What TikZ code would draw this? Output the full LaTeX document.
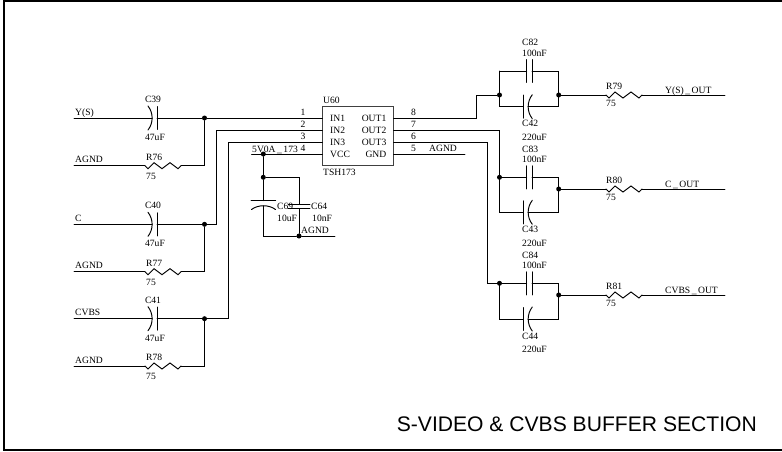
\documentclass[tikz,border=0pt]{standalone}
\usepackage{fontspec}
\setmainfont{Liberation Serif}
\newfontfamily\titlefont{Liberation Sans}
\newcommand\us{\kern1.5pt\_\kern1.5pt}
\tikzset{
	wire/.style={line width=0.95pt, line cap=round},
	lbl/.style={inner sep=0pt, anchor=base west, font=\fontsize{9.6}{10}\selectfont},
	lblr/.style={lbl, anchor=base east},
	ctr/.style={lbl, anchor=base},
	dot/.style={circle, fill=black, inner sep=0pt, minimum size=5pt},
	ic/.style={draw=black!75, line width=1pt, inner sep=0pt, minimum width=71.5pt, minimum height=59pt},
	% 36 wide, starts at the pic origin
	resistor/.pic={
		\draw[wire] (0,0) -- (3,3) -- (9,-3) -- (17,3) -- (25,-3) -- (33,3) -- (36,0);
		\coordinate (-in) at (0,0);
		\coordinate (-out) at (36,0);
	},
	% curved plate on the left, flat plate on the right
	capin/.pic={
		\draw[wire] (0,-12) .. controls (5.5,-5) and (5.5,5) .. (0,12);
		\draw[wire] (9,-11.5) -- (9,11.5);
		\coordinate (-in) at (4.2,0);
		\coordinate (-out) at (9,0);
	},
	% two flat plates
	capflat/.pic={
		\draw[wire] (0,-11.5) -- (0,11.5);
		\draw[wire] (5.3,-11.5) -- (5.3,11.5);
		\coordinate (-in) at (0,0);
		\coordinate (-out) at (5.3,0);
	},
	% flat plate on the left, curved plate on the right
	capout/.pic={
		\draw[wire] (0,-11.5) -- (0,11.5);
		\draw[wire] (9,-12) .. controls (3.5,-5) and (3.5,5) .. (9,12);
		\coordinate (-in) at (0,0);
		\coordinate (-out) at (4.8,0);
	}
}
\begin{document}
\begin{tikzpicture}[x=1pt, y=-1pt]
\useasboundingbox (0,0) rectangle (782,451);

% frame
\draw[line width=2.2pt] (782,0.6) -- (4.2,0.6) -- (4.2,449.6) -- (782,449.6);

% input side
\foreach \nm/\cp/\val/\rs/\ya/\yb/\lab in {a/C39/47uF/R76/118/165.7/Y(S), b/C40/47uF/R77/224.3/271.7/C, c/C41/47uF/R78/318.7/366/CVBS} {
	\coordinate (\nm in) at (74,\ya);
	\coordinate (\nm gnd) at (74,\yb);
	\node[dot] (\nm dot) at (204.5,\ya) {};
	\coordinate (\nm cor) at (204.5,\yb);
	\pic (\nm c) at (148,\ya) {capin};
	\pic (\nm r) at (145,\yb) {resistor};
	\draw[wire] (\nm in) -- (\nm c-in);
	\draw[wire] (\nm c-out) -- (\nm dot);
	\draw[wire] (\nm gnd) -- (\nm r-in);
	\draw[wire] (\nm r-out) -- (\nm cor) -- (\nm dot);
	\node[lbl] at (75,\ya-2.8) {\lab};
	\node[lbl] at (75,\yb-2.8) {AGND};
	\node[ctr] at (153,\ya-15.5) {\cp};
	\node[ctr] at (155,\ya+22.5) {\val};
	\node[lbl] at (146,\yb-5.2) {\rs};
	\node[lbl] at (146,\yb+13.5) {75};
}

% the buffer
\node[ic] (u60) at (358,136.2) {};
\node[lbl] at (323,103.5) {U60};
\node[lbl] at (323,175.5) {TSH173};

\foreach \i/\y/\nl/\nr/\ln/\rn in {1/118/8/1/IN1/OUT1, 2/130/7/2/IN2/OUT2, 3/142/6/3/IN3/OUT3, 4/154/5/4/VCC/GND} {
	\coordinate (pl\i) at (322.3,\y);
	\coordinate (pr\i) at (393.7,\y);
	\node[lbl] at (300.3,\y-2.5) {\nr};
	\node[lbl] at (411,\y-2.5) {\nl};
	\node[lbl] at (330,\y+3.5) {\ln};
	\node[lblr] at (386.5,\y+3.5) {\rn};
}

% inputs to the buffer
\draw[wire] (adot) -- (pl1);
\draw[wire] (bdot) -- (216.7,224.3) -- (216.7,130) -- (pl2);
\draw[wire] (cdot) -- (228.3,318.7) -- (228.3,142) -- (pl3);

% supply and decoupling
\coordinate (vcc) at (251.7,154);
\node[dot] (vccdot) at (263.3,154) {};
\node[dot] (dectop) at (263.3,177.3) {};
\node[dot] (decgnd) at (299,236) {};
\coordinate (gndend) at (335,236);
\draw[wire] (vcc) -- (pl4);
\draw[wire] (vccdot) -- (dectop);
\draw[wire] (dectop) -- (263.3,200.7);
\draw[wire] (251,200.7) -- (275.7,200.7);
\draw[wire] (251.5,209.5) .. controls (258,204.5) and (269,204.5) .. (275.5,209.5);
\draw[wire] (263.3,205.8) -- (263.3,236) -- (decgnd);
\draw[wire] (dectop) -- (299,177.3) -- (299,204.3);
\draw[wire] (288,204.3) -- (310,204.3);
\draw[wire] (288,208.8) -- (310,208.8);
\draw[wire] (299,208.8) -- (decgnd);
\draw[wire] (decgnd) -- (gndend);
\node[lbl] at (252,152.7) {5V0A\us 173};
\node[lbl] at (277,209) {C69};
\node[lbl] at (311,209) {C64};
\node[lbl] at (277,221.5) {10uF};
\node[lbl] at (312,221.5) {10nF};
\node[lbl] at (301,233.5) {AGND};

% right pin 5
\coordinate (gndr) at (465,154);
\draw[wire] (pr4) -- (gndr);
\node[lbl] at (429,151.5) {AGND};

% output side
\foreach \nm/\ym/\yt/\yb/\rs/\lab/\cpa/\cpb in {a/95/71/106.7/R79/Y(S)\us OUT/C82/C42, b/189/177.3/212.3/R80/C\us OUT/C83/C43, c/295/283.3/319/R81/CVBS\us OUT/C84/C44} {
	\coordinate (\nm tl) at (499.5,\yt);
	\coordinate (\nm tr) at (558.7,\yt);
	\coordinate (\nm bl) at (499.5,\yb);
	\coordinate (\nm br) at (558.7,\yb);
	\coordinate (\nm oend) at (725,\ym);
	\node[dot] (\nm odot) at (558.7,\ym) {};
	\pic (\nm cf) at (526.7,\yt) {capflat};
	\pic (\nm cc) at (523.3,\yb) {capout};
	\pic (\nm ro) at (606,\ym) {resistor};
	\draw[wire] (\nm tl) -- (\nm cf-in);
	\draw[wire] (\nm cf-out) -- (\nm tr) -- (\nm br) -- (\nm cc-out);
	\draw[wire] (\nm cc-in) -- (\nm bl) -- (\nm tl);
	\draw[wire] (\nm odot) -- (\nm ro-in);
	\draw[wire] (\nm ro-out) -- (\nm oend);
	\node[lbl] at (522,\yt-15) {100nF};
	\node[lbl] at (522,\yt-25.3) {\cpa};
	\node[lbl] at (522,\yb+20.2) {\cpb};
	\node[lbl] at (522,\yb+33.7) {220uF};
	\node[lbl] at (606,\ym-6) {\rs};
	\node[lbl] at (606,\ym+11.5) {75};
	\node[lbl] at (665,\ym-1.5) {\lab};
}

% outputs of the buffer
\node[dot] (jy) at (499.5,95) {};
\node[dot] (jc) at (499.5,177.3) {};
\node[dot] (jv) at (499.5,283.3) {};
\draw[wire] (pr1) -- (476,118) -- (476,95) -- (jy);
\draw[wire] (pr2) -- (499.5,130) -- (jc);
\draw[wire] (pr3) -- (487.7,142) -- (487.7,283.3) -- (jv);

\node[inner sep=0pt, anchor=base east, font=\titlefont\fontsize{21.1}{22}\selectfont] (ttl) at (757,431.7) {S-VIDEO \& CVBS BUFFER SECTION};

\end{tikzpicture}
\end{document}
